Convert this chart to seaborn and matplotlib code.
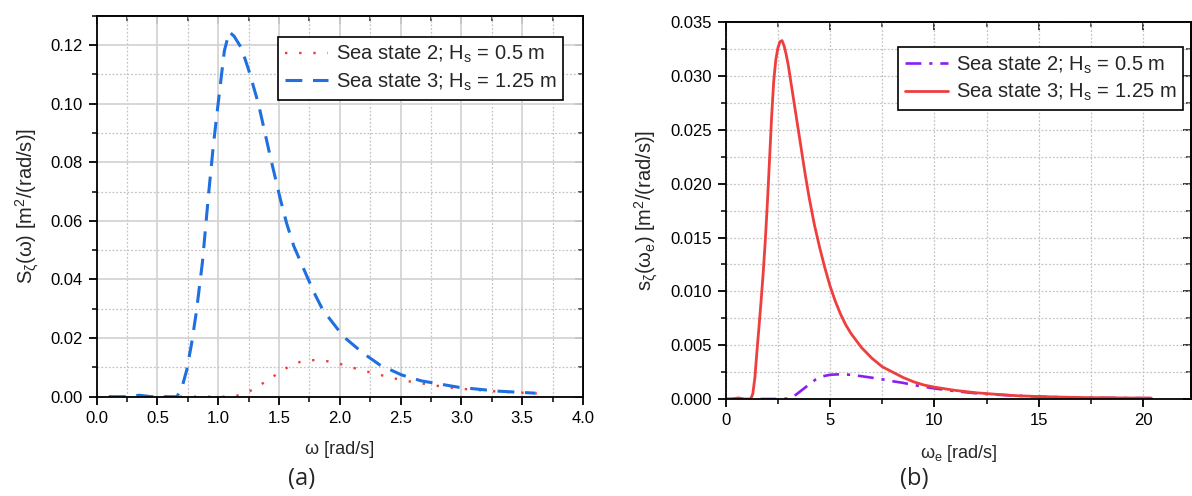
import numpy as np
import pandas as pd
import matplotlib
matplotlib.use("Agg")
import matplotlib.pyplot as plt
import seaborn as sns
from matplotlib.ticker import MultipleLocator, FormatStrFormatter

# ---------------- data ----------------
w_ss3 = [0.10, 0.25, 0.35, 0.45, 0.60, 0.66, 0.70, 0.74, 0.78, 0.82, 0.87, 0.92, 0.96, 1.01, 1.05, 1.09,
         1.13, 1.19, 1.25, 1.33, 1.43, 1.51, 1.56, 1.62, 1.73, 1.80, 1.86, 2.03, 2.19, 2.33, 2.51, 2.67,
         2.98, 3.30, 3.61]
s_ss3 = [0.0, 0.0, 0.0005, 0.0, 0.0, 0.0, 0.003, 0.009, 0.018, 0.029, 0.046, 0.069, 0.086, 0.104, 0.118, 0.1245,
         0.123, 0.119, 0.1115, 0.100, 0.0815, 0.0675, 0.0595, 0.0515, 0.041, 0.0345, 0.0296, 0.0205, 0.0149, 0.0108, 0.0074, 0.0054,
         0.0032, 0.0019, 0.0012]

w_ss2 = [0.10, 0.22, 0.34, 0.46, 0.58, 0.70, 0.82, 0.95, 1.07, 1.18, 1.29, 1.39, 1.50, 1.60, 1.71, 1.83,
         1.95, 2.06, 2.18, 2.30, 2.42, 2.53, 2.65, 2.77, 2.89, 3.00, 3.13, 3.25, 3.37, 3.49, 3.62]
s_ss2 = [0.0, 0.0, 0.0, 0.0, 0.0, 0.0, 0.0, 0.0, 0.0, 0.0005, 0.0025, 0.0052, 0.0082, 0.0108, 0.0124, 0.0125,
         0.0118, 0.0105, 0.0090, 0.0078, 0.0065, 0.0055, 0.0047, 0.0039, 0.0032, 0.0027, 0.0023, 0.0019, 0.0016, 0.0014, 0.0011]

we_ss3 = [0.0, 0.3, 0.6, 0.9, 1.2, 1.3, 1.4, 1.5, 1.6, 1.7, 1.8, 1.9, 2.0, 2.1, 2.2, 2.3, 2.4, 2.5, 2.6, 2.7,
          2.8, 2.9, 3.0, 3.2, 3.4, 3.6, 3.8, 4.0, 4.25, 4.5, 4.75, 5.0, 5.25, 5.5, 5.75, 6.0, 6.5, 7.0, 7.5,
          8.0, 8.5, 9.0, 9.5, 10.0, 11.0, 12.0, 13.0, 14.0, 15.0, 16.0, 17.0, 18.0, 19.0, 20.4]
se_ss3 = [0.0, 0.0, 0.0001, 0.0, 0.0, 0.0005, 0.002, 0.0045, 0.0068, 0.0092, 0.0118, 0.0148, 0.0183, 0.0222,
          0.0262, 0.0295, 0.0315, 0.0326, 0.0332, 0.0333, 0.0328, 0.0320, 0.0310, 0.0285, 0.0260, 0.0235,
          0.0210, 0.0187, 0.0162, 0.0141, 0.0122, 0.0105, 0.0091, 0.0079, 0.0069, 0.0061, 0.0048, 0.0038,
          0.0030, 0.0025, 0.0020, 0.0016, 0.0013, 0.0011, 0.0008, 0.00058, 0.00043, 0.0003, 0.00023,
          0.00018, 0.00014, 0.00012, 0.0001, 0.00008]

we_ss2 = [0.0, 1.0, 2.0, 2.7, 2.9, 3.1, 3.3, 3.5, 3.7, 3.9, 4.1, 4.3, 4.5, 4.75, 5.0, 5.5, 6.0, 6.5, 7.0, 7.5,
          8.0, 8.5, 9.0, 10.0, 11.0, 12.0, 13.0, 14.0, 15.0, 16.0, 17.0, 18.0, 19.0, 20.4]
se_ss2 = [0.0, 0.0, 0.0, 0.0, 0.00003, 0.0001, 0.0003, 0.0006, 0.0009, 0.0012, 0.0015, 0.0018, 0.0020, 0.00215,
          0.00225, 0.0023, 0.00225, 0.00212, 0.00198, 0.00183, 0.00165, 0.0015, 0.0013, 0.00098, 0.00073,
          0.00053, 0.0004, 0.0003, 0.00022, 0.00017, 0.00013, 0.0001, 0.00009, 0.00008]

legend_a = ["Sea state 2; H$_\\mathregular{s}$ = 0.5 m", "Sea state 3; H$_\\mathregular{s}$ = 1.25 m"]
legend_b = ["Sea state 2; H$_\\mathregular{s}$ = 0.5 m", "Sea state 3; H$_\\mathregular{s}$ = 1.25 m"]

# ---------------- style ----------------
sns.set_theme(style="white")
plt.rcParams["font.family"] = ["Liberation Sans", "DejaVu Sans"]
plt.rcParams["mathtext.fontset"] = "custom"
plt.rcParams["mathtext.rm"] = "Liberation Sans"
plt.rcParams["mathtext.it"] = "Liberation Sans:italic"
plt.rcParams["mathtext.default"] = "regular"

fig = plt.figure(figsize=(11.92, 4.96), dpi=100)
W, H = 1192, 496
axA = fig.add_axes([96.7 / W, 1 - 396.7 / H, (583 - 96.7) / W, (396.7 - 15.7) / H])
axB = fig.add_axes([725.7 / W, 1 - 399 / H, (1191 - 725.7) / W, (399 - 22.3) / H])

blue = "#1F6FE0"
red_dot = "#F03A3A"
purple = "#8A1EF5"
red = "#EF3E3E"

dfA3 = pd.DataFrame({"w": w_ss3, "s": s_ss3})
dfA2 = pd.DataFrame({"w": w_ss2, "s": s_ss2})
dfB3 = pd.DataFrame({"w": we_ss3, "s": se_ss3})
dfB2 = pd.DataFrame({"w": we_ss2, "s": se_ss2})

sns.lineplot(data=dfA2, x="w", y="s", ax=axA, color=red_dot, lw=1.7, sort=False,
             linestyle=(0, (1, 5)), label=legend_a[0])
sns.lineplot(data=dfA3, x="w", y="s", ax=axA, color=blue, lw=2.2, sort=False,
             linestyle=(0, (5.5, 3.5)), label=legend_a[1])
sns.lineplot(data=dfB2, x="w", y="s", ax=axB, color=purple, lw=1.9, sort=False,
             linestyle=(0, (6, 3, 1.2, 3)), label=legend_b[0])
sns.lineplot(data=dfB3, x="w", y="s", ax=axB, color=red, lw=2.0, sort=False,
             label=legend_b[1])

tick_fs = 12

def style_axes(ax, xmaj, xmin, ymaj, ymin, xlim, ylim, major_solid):
    ax.set_xlim(*xlim)
    ax.set_ylim(*ylim)
    ax.xaxis.set_major_locator(MultipleLocator(xmaj))
    ax.xaxis.set_minor_locator(MultipleLocator(xmin))
    ax.yaxis.set_major_locator(MultipleLocator(ymaj))
    ax.yaxis.set_minor_locator(MultipleLocator(ymin))
    if major_solid:
        ax.grid(True, which="major", color="#d4d4d4", lw=1.3, ls="-")
    else:
        ax.grid(True, which="major", color="#c4c4c4", lw=0.9, ls=(0, (1.5, 1.5)))
    ax.grid(True, which="minor", color="#c4c4c4", lw=0.9, ls=(0, (1.5, 1.5)))
    ax.set_axisbelow(True)
    for sp in ax.spines.values():
        sp.set_color("black")
        sp.set_linewidth(1.3)
        sp.set_visible(True)
    ax.tick_params(axis="both", which="major", direction="out", length=6, width=1.3,
                   color="black", labelsize=tick_fs, labelcolor="black", pad=4,
                   bottom=True, left=True, top=False, right=False)
    ax.tick_params(axis="both", which="minor", direction="out", length=3.5, width=1.1,
                   color="black", bottom=True, left=True, top=False, right=False)
    sx = ax.secondary_xaxis("top")
    sx.xaxis.set_major_locator(MultipleLocator(xmaj))
    sx.xaxis.set_minor_locator(MultipleLocator(xmin))
    sx.tick_params(which="major", direction="in", length=6, width=1.3, labeltop=False)
    sx.tick_params(which="minor", direction="in", length=3.5, width=1.1)
    sx.spines["top"].set_linewidth(1.3)
    sy = ax.secondary_yaxis("right")
    sy.yaxis.set_major_locator(MultipleLocator(ymaj))
    sy.yaxis.set_minor_locator(MultipleLocator(ymin))
    sy.tick_params(which="major", direction="in", length=6, width=1.3, labelright=False)
    sy.tick_params(which="minor", direction="in", length=3.5, width=1.1)
    sy.spines["right"].set_linewidth(1.3)

style_axes(axA, 0.5, 0.25, 0.02, 0.01, (0, 4.0), (0, 0.13), True)
style_axes(axB, 5, 2.5, 0.005, 0.0025, (0, 22.3), (0, 0.035), False)

axA.xaxis.set_major_formatter(FormatStrFormatter("%.1f"))
axA.yaxis.set_major_formatter(FormatStrFormatter("%.2f"))
axB.xaxis.set_major_formatter(FormatStrFormatter("%d"))
axB.yaxis.set_major_formatter(FormatStrFormatter("%.3f"))

axA.set_xlabel("ω [rad/s]", fontsize=13, labelpad=11)
axA.set_ylabel("S$_\\zeta$(ω) [m$^2$/(rad/s)]", fontsize=14.5, labelpad=7)
axB.set_xlabel("ω$_\\mathregular{e}$ [rad/s]", fontsize=13, labelpad=11)
axB.set_ylabel("s$_\\zeta$(ω$_\\mathregular{e}$) [m$^2$/(rad/s)]", fontsize=14.5, labelpad=7)

for ax, anchor in ((axA, (0.959, 0.944)), (axB, (0.983, 0.934))):
    leg = ax.legend(loc="upper right", bbox_to_anchor=anchor, fontsize=14.5, frameon=True,
                    fancybox=False, framealpha=1, edgecolor="black", borderpad=0.35,
                    handlelength=2.1, handletextpad=0.4, labelspacing=0.3, borderaxespad=0)
    leg.get_frame().set_linewidth(1.2)

fig.text(302 / W, 1 - 479 / H, "(a)", fontsize=17, ha="center", va="center", family="Open Sans")
fig.text(914 / W, 1 - 479 / H, "(b)", fontsize=17, ha="center", va="center", family="Open Sans")

fig.savefig("out.png", dpi=100)
